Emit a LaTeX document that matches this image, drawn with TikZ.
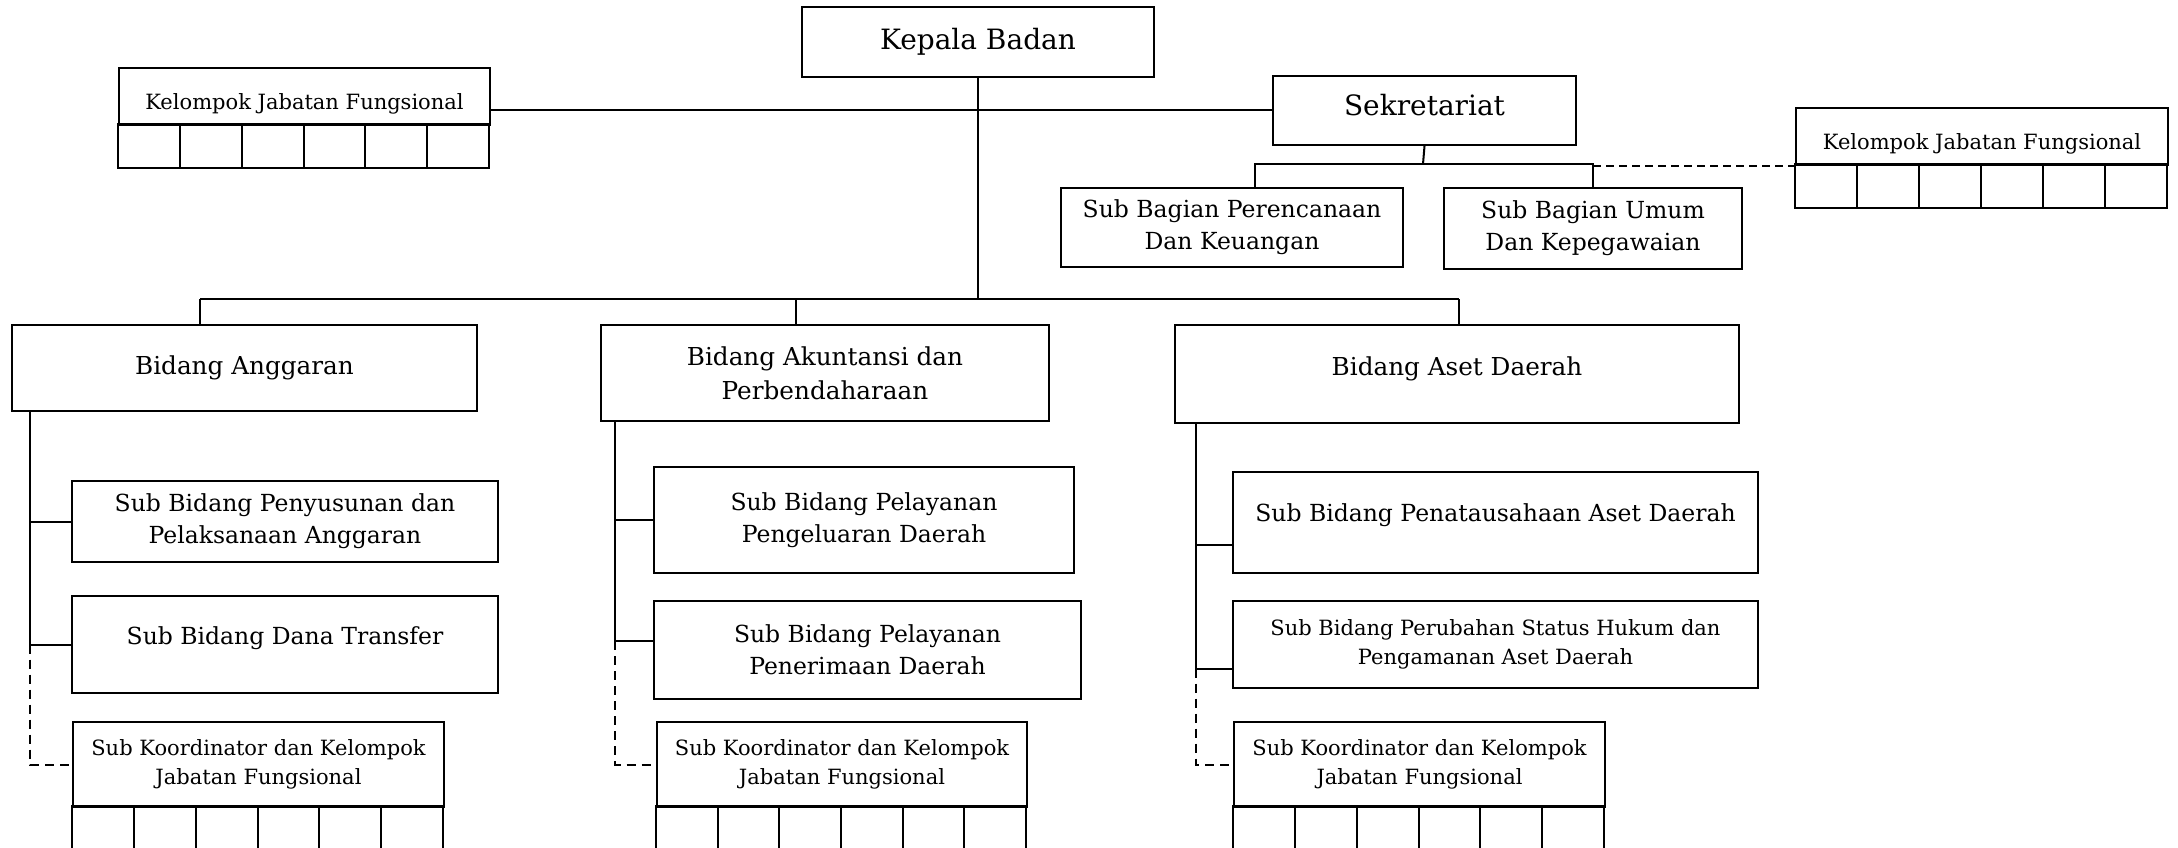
\documentclass[tikz,border=0pt]{standalone}
\usepackage{fontspec}
\setmainfont{DejaVu Serif}
\usetikzlibrary{calc}
\newcommand\fsz[1]{\fontsize{#1}{\fpeval{1.36*#1}}\selectfont}
\newcommand\shifttxt[2]{\raisebox{#1}[\height][\depth]{#2}}
\newcommand\cellrow[4]{\foreach \i in {0,...,5}{\draw[cellline] ({#1+\i*#3/6},#2) rectangle ({#1+(\i+1)*#3/6},{#2+#4});}}
\begin{document}
\begin{tikzpicture}[x=1pt,y=-1pt,
  box/.style={draw, line width=2pt, rectangle, anchor=north west, inner sep=0pt, align=center},
  cellline/.style={line width=2pt},
  conn/.style={line width=2pt},
  dconn/.style={line width=2pt, dash pattern=on 9pt off 6pt},
  big/.style={font=\fsz{28}},
  mid/.style={font=\fsz{23.5}},
  bid/.style={font=\fsz{24.7}},
  small/.style={font=\fsz{21}},
]
\clip (0,0) rectangle (2178,848);
\fill[white] (0,0) rectangle (2178,848);

% top level
\node[box, big, minimum width=352pt, minimum height=70pt] (kepala) at (801,6) {Kepala Badan};
\node[box, small, minimum width=371pt, minimum height=57pt] (kjfL) at (118,67) {\shifttxt{-7pt}{Kelompok Jabatan Fungsional}};
\cellrow{118}{124}{371}{44}
\node[box, big, minimum width=303pt, minimum height=69pt] (sek) at (1272,75) {\shifttxt{5pt}{Sekretariat}};
\node[box, mid, minimum width=342pt, minimum height=79pt] (sbP) at (1060,187) {Sub Bagian Perencanaan\\Dan Keuangan};
\node[box, mid, minimum width=298pt, minimum height=81pt] (sbU) at (1443,187) {Sub Bagian Umum\\Dan Kepegawaian};
\node[box, small, minimum width=372pt, minimum height=57pt] (kjfR) at (1795,107) {\shifttxt{-7pt}{Kelompok Jabatan Fungsional}};
\cellrow{1795}{164}{372}{44}

% bidang
\node[box, bid, minimum width=465pt, minimum height=86pt] (bA) at (11,324) {Bidang Anggaran};
\node[box, bid, minimum width=448pt, minimum height=96pt] (bK) at (600,324) {Bidang Akuntansi dan\\Perbendaharaan};
\node[box, bid, minimum width=564pt, minimum height=98pt] (bD) at (1174,324) {\shifttxt{5pt}{Bidang Aset Daerah}};

% sub bidang anggaran
\node[box, mid, minimum width=426pt, minimum height=81pt] (sA1) at (71,480) {Sub Bidang Penyusunan dan\\Pelaksanaan Anggaran};
\node[box, mid, minimum width=426pt, minimum height=97pt] (sA2) at (71,595) {\shifttxt{6pt}{Sub Bidang Dana Transfer}};
\node[box, small, minimum width=371pt, minimum height=85pt] (kA) at (72,721) {Sub Koordinator dan Kelompok\\Jabatan Fungsional};
\cellrow{72}{806}{371}{70}

% sub bidang akuntansi
\node[box, mid, minimum width=420pt, minimum height=106pt] (sK1) at (653,466) {Sub Bidang Pelayanan\\Pengeluaran Daerah};
\node[box, mid, minimum width=427pt, minimum height=98pt] (sK2) at (653,600) {Sub Bidang Pelayanan\\Penerimaan Daerah};
\node[box, small, minimum width=370pt, minimum height=85pt] (kK) at (656,721) {Sub Koordinator dan Kelompok\\Jabatan Fungsional};
\cellrow{656}{806}{370}{70}

% sub bidang aset
\node[box, mid, minimum width=525pt, minimum height=101pt] (sD1) at (1232,471) {\shifttxt{7pt}{Sub Bidang Penatausahaan Aset Daerah}};
\node[box, small, minimum width=525pt, minimum height=87pt] (sD2) at (1232,600) {Sub Bidang Perubahan Status Hukum dan\\Pengamanan Aset Daerah};
\node[box, small, minimum width=371pt, minimum height=85pt] (kD) at (1233,721) {Sub Koordinator dan Kelompok\\Jabatan Fungsional};
\cellrow{1233}{806}{371}{70}

% coordinates
\coordinate (busA) at (200,299);
\coordinate (busK) at (796,299);
\coordinate (busD) at (1459,299);
\coordinate (spA) at (30,0);
\coordinate (spK) at (615,0);
\coordinate (spD) at (1196,0);
\coordinate (sekBus) at (1423,164);

% top connectors
\draw[conn] (kepala.south) -- (kepala.south |- busA);
\draw[conn] (kjfL.east |- sek.west) -- (sek.west);
\draw[conn] (busA) -- (busD);
\draw[conn] (busA) -- (busA |- bA.north);
\draw[conn] (busK) -- (busK |- bK.north);
\draw[conn] (busD) -- (busD |- bD.north);

% sekretariat
\draw[conn] (sek.south) -- (sekBus);
\draw[conn] ($(sbP.north)+(23,0)$) |- (sbU.north |- sekBus) -- (sbU.north);
\draw[line width=2pt, dash pattern=on 8pt off 5pt] (sbU.north |- kjfR.south west) -- (kjfR.south west);

% anggaran spine
\draw[conn] (spA |- bA.south) -- (spA |- sA2.west) -- (sA2.west);
\draw[conn] (spA |- sA1.west) -- (sA1.west);
\draw[dconn] (spA |- sA2.west) -- (spA |- kA.west) -- (kA.west);

% akuntansi spine
\draw[conn] (spK |- bK.south) -- ($(spK |- sK2.west)+(0,-9)$) -- ($(sK2.west)+(0,-9)$);
\draw[conn] (spK |- sK1.west) -- (sK1.west);
\draw[dconn] ($(spK |- sK2.west)+(0,-9)$) -- (spK |- kK.west) -- (kK.west);

% aset spine
\draw[conn] (spD |- bD.south) -- ($(spD |- sD2.west)+(0,24)$) -- ($(sD2.west)+(0,24)$);
\draw[conn] ($(spD |- sD1.west)+(0,22)$) -- ($(sD1.west)+(0,22)$);
\draw[dconn] ($(spD |- sD2.west)+(0,24)$) -- (spD |- kD.west) -- (kD.west);
\end{tikzpicture}
\end{document}
